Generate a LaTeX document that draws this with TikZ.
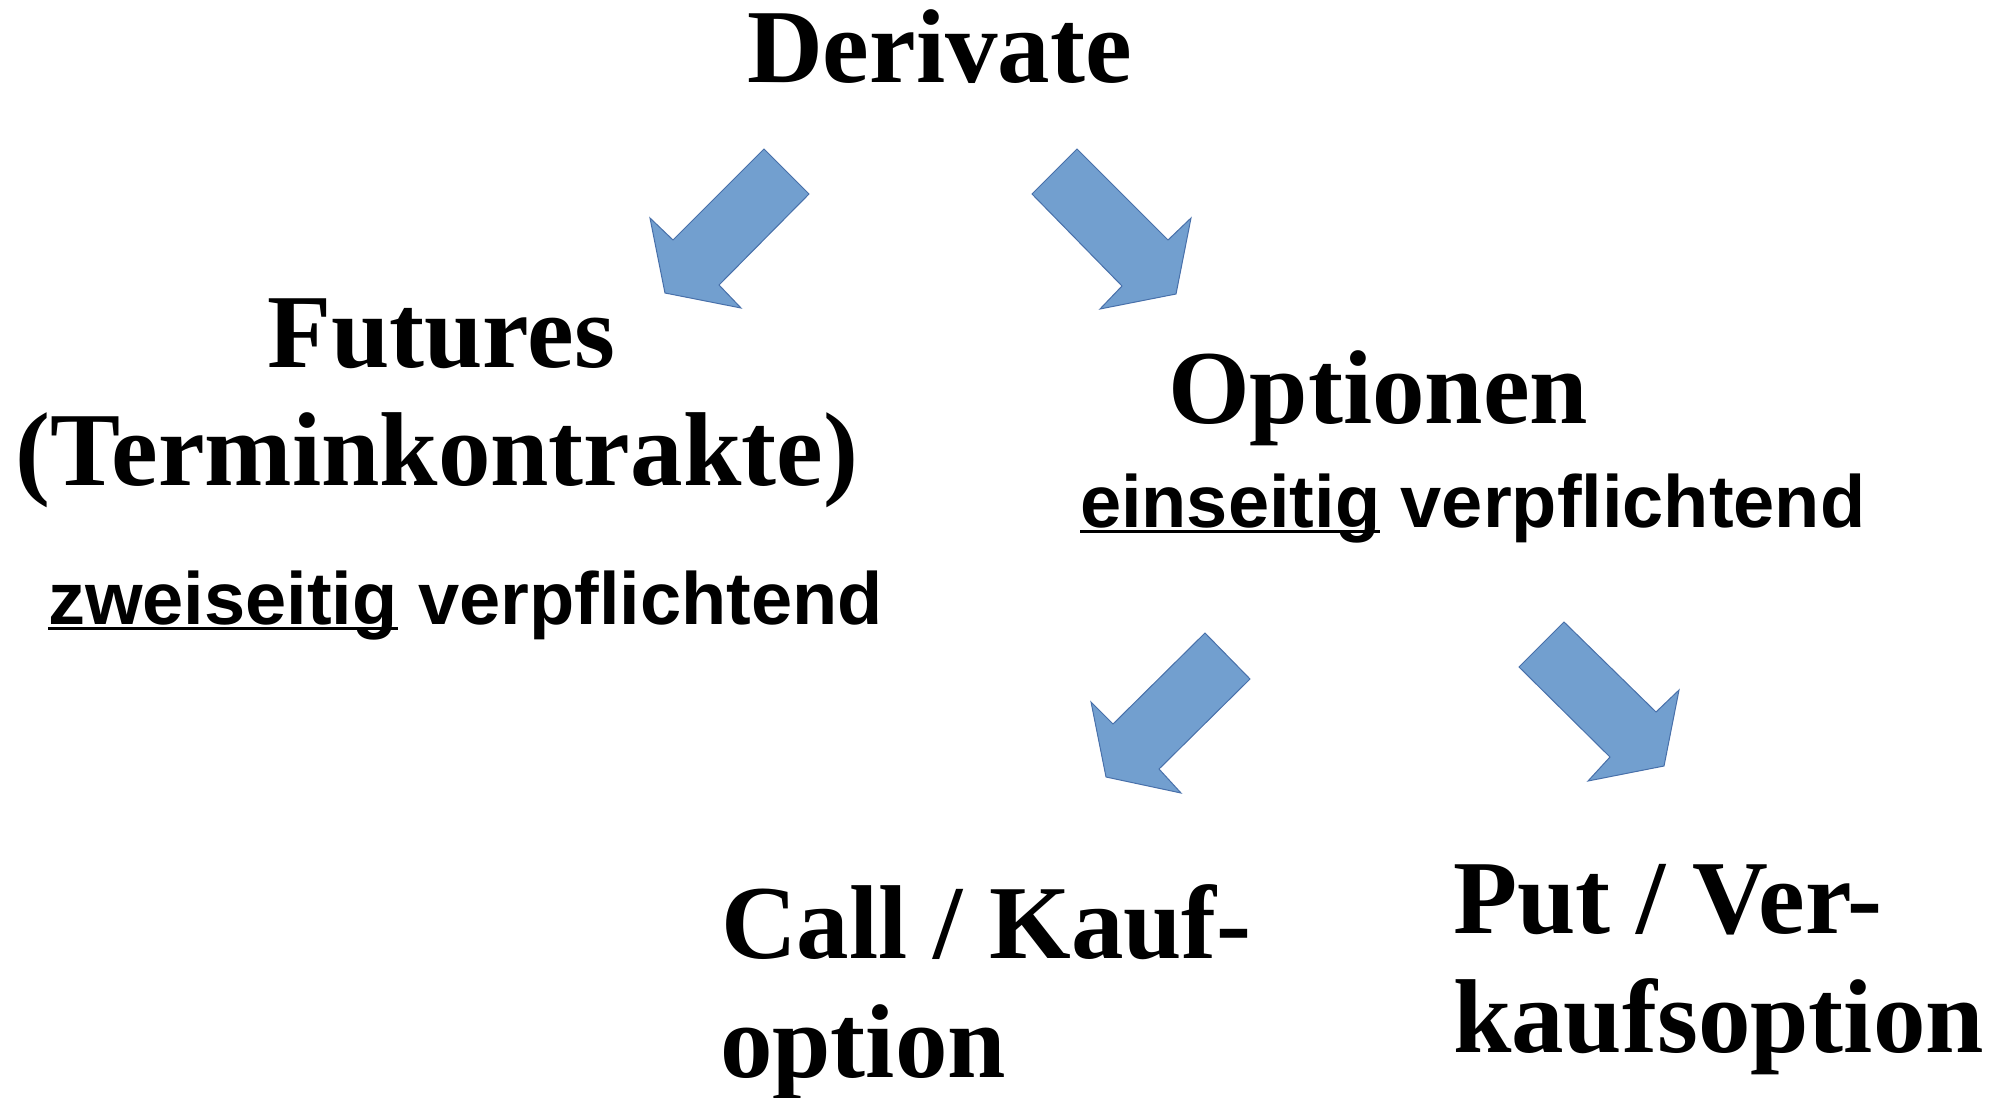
\documentclass[tikz,border=0pt]{standalone}
\usepackage{fontspec}
\setmainfont{Liberation Serif}
\setsansfont{Liberation Sans}
\definecolor{arrowfill}{RGB}{114,159,207}
\definecolor{arrowline}{RGB}{72,112,170}
\newsavebox{\ulbox}
\newcommand{\ulword}[1]{\sbox{\ulbox}{#1}\rlap{\rule[-0.085em]{\wd\ulbox}{0.048em}}\usebox{\ulbox}}
\tikzset{
  head/.style={inner sep=0pt, outer sep=0pt, anchor=base west, font=\fontsize{105}{118}\selectfont\bfseries},
  sub/.style={inner sep=0pt, outer sep=0pt, anchor=base west, font=\sffamily\bfseries\fontsize{74}{80}\selectfont},
  blockarrow/.style={fill=arrowfill, draw=arrowline, line width=1pt, line join=miter}
}
\begin{document}
\begin{tikzpicture}[x=1pt,y=-1pt]
\useasboundingbox[fill=white] (0,0) rectangle (2009,1097);
% texts
\node[head] (der) at (747,83) {Derivate};
\node[head] (fut1) at (267,367) {Futures};
\node[head] (fut2) at (16,485) {(Terminkontrakte)};
\node[sub] (zw) at (48,624) {\ulword{zweiseitig} verpflichtend};
\node[head] (opt) at (1168,423) {Optionen};
\node[sub] (ein) at (1080,527) {\ulword{einseitig} verpflichtend};
\node[head] (call1) at (721,958) {Call / Kauf-};
\node[head] (call2) at (720,1077) {option};
\node[head] (put1) at (1453,933) {Put / Ver-};
\node[head] (put2) at (1453,1052) {kaufsoption};
% block arrows
\draw[blockarrow] (764,149) -- (809,194) -- (719,285) -- (741,308) -- (665,293) -- (650,218) -- (673,240) -- cycle;
\draw[blockarrow] (1032,194) -- (1077,149) -- (1168,240) -- (1191,218) -- (1176,294) -- (1100,309) -- (1122,286) -- cycle;
\draw[blockarrow] (1205,633) -- (1250,679) -- (1159,769) -- (1181,793) -- (1106,777) -- (1091,702) -- (1113,724) -- cycle;
\draw[blockarrow] (1519,667) -- (1564,622) -- (1656,712) -- (1679,690) -- (1664,766) -- (1588,781) -- (1610,757) -- cycle;
\end{tikzpicture}
\end{document}
